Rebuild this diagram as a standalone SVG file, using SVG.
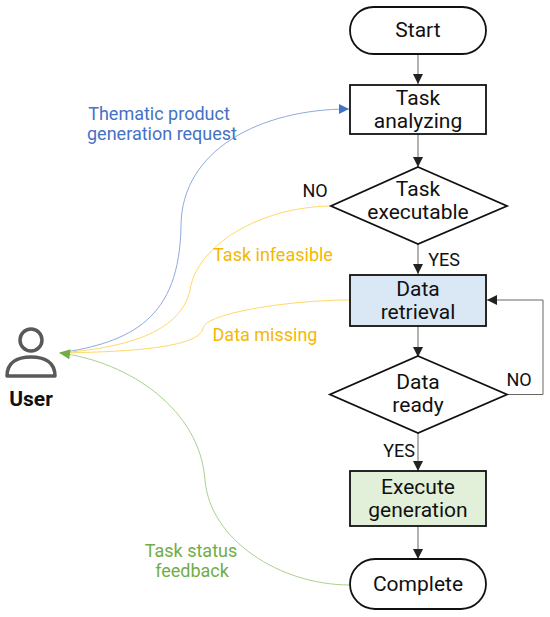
<svg xmlns="http://www.w3.org/2000/svg" width="550" height="617" viewBox="0 0 550 617">
<style>
text{font-family:Roboto,"Open Sans","Liberation Sans",sans-serif;font-size:21px;text-anchor:middle;fill:#111}
.l{font-size:18px}
.n{fill:#fff;stroke:#111;stroke-width:1.8}
.c{fill:none;stroke:#666;stroke-width:1}
.b{fill:#4472c4}.y{fill:#f5b800}.g{fill:#70ad47}
</style>
<defs>
<marker id="k" markerWidth="12" markerHeight="10" refX="10" refY="5" orient="auto" markerUnits="userSpaceOnUse"><path d="M0 0L10 5L0 10z" fill="#222"/></marker>
<marker id="mb" markerWidth="12" markerHeight="10" refX="10" refY="5" orient="auto" markerUnits="userSpaceOnUse"><path d="M0 0L10 5L0 10z" fill="#4472c4"/></marker>
<marker id="mg" markerWidth="14" markerHeight="10" refX="1" refY="5" orient="auto" markerUnits="userSpaceOnUse"><path d="M11 0L0 5L11 10z" fill="#70ad47"/></marker>
</defs>
<g id="connectors">
<path class="c" marker-end="url(#k)" d="M418 55V84"/>
<path class="c" marker-end="url(#k)" d="M418 134V167"/>
<path class="c" marker-end="url(#k)" d="M418 243V274"/>
<path class="c" marker-end="url(#k)" d="M418 326V357"/>
<path class="c" marker-end="url(#k)" d="M418 433V471"/>
<path class="c" marker-end="url(#k)" d="M418 527V559"/>
<path class="c" marker-end="url(#k)" d="M507 394.500H543V300H487"/>
<path fill="none" stroke="#8faadc" stroke-width="1" marker-end="url(#mb)" d="M60 353C130 342 180 320 181 225C182 150 260 109 349 109"/>
<path fill="none" stroke="#ffd966" stroke-width="1" d="M60 353C120 348 180 335 190 290C197 245 260 207 331 206"/>
<path fill="none" stroke="#ffd966" stroke-width="1" d="M60 353C110 352 200 350 203 328C206 313 290 300 350 300"/>
<path fill="none" stroke="#a9d18e" stroke-width="1" marker-start="url(#mg)" d="M60 353C130 362 200 410 205 480C210 540 280 585 350 585"/>
</g>
<g id="start"><rect class="n" x="350" y="7" width="136" height="47" rx="23.500"/><text x="418" y="37">Start</text></g>
<g id="task-analyzing"><rect class="n" x="350" y="85" width="136" height="49"/><text x="418" y="105">Task</text><text x="418" y="128">analyzing</text></g>
<g id="task-executable"><path class="n" d="M418 167L507 206L418 244L331 206z"/><text x="418" y="196">Task</text><text x="418" y="219">executable</text></g>
<g id="data-retrieval"><rect class="n" style="fill:#dae8f5" x="350" y="275" width="136" height="51"/><text x="418" y="296">Data</text><text x="418" y="319">retrieval</text></g>
<g id="data-ready"><path class="n" d="M418 356L507 394.500L418 433L330 394.500z"/><text x="418" y="389">Data</text><text x="418" y="412">ready</text></g>
<g id="execute-generation"><rect class="n" style="fill:#e2efd9" x="350" y="471" width="136" height="55"/><text x="418" y="494">Execute</text><text x="418" y="517">generation</text></g>
<g id="complete"><rect class="n" x="350" y="559" width="136" height="50" rx="25"/><text x="418" y="591">Complete</text></g>
<g id="user">
<circle cx="31" cy="340" r="11" fill="none" stroke="#595959" stroke-width="3.500"/>
<path d="M7 376C7 362 18 357 31 357C44 357 55 362 55 376z" fill="none" stroke="#595959" stroke-width="3.500" stroke-linejoin="round"/>
<text x="31" y="406" style="font-weight:700">User</text>
</g>
<g id="labels">
<text class="l b" x="159" y="120">Thematic product</text>
<text class="l b" x="162" y="140">generation request</text>
<text class="l" x="315" y="197">NO</text>
<text class="l y" x="273" y="261">Task infeasible</text>
<text class="l" x="444" y="266">YES</text>
<text class="l y" x="265" y="341">Data missing</text>
<text class="l" x="519" y="386">NO</text>
<text class="l" x="399" y="457">YES</text>
<text class="l g" x="191" y="557">Task status</text>
<text class="l g" x="192" y="577">feedback</text>
</g>
</svg>
